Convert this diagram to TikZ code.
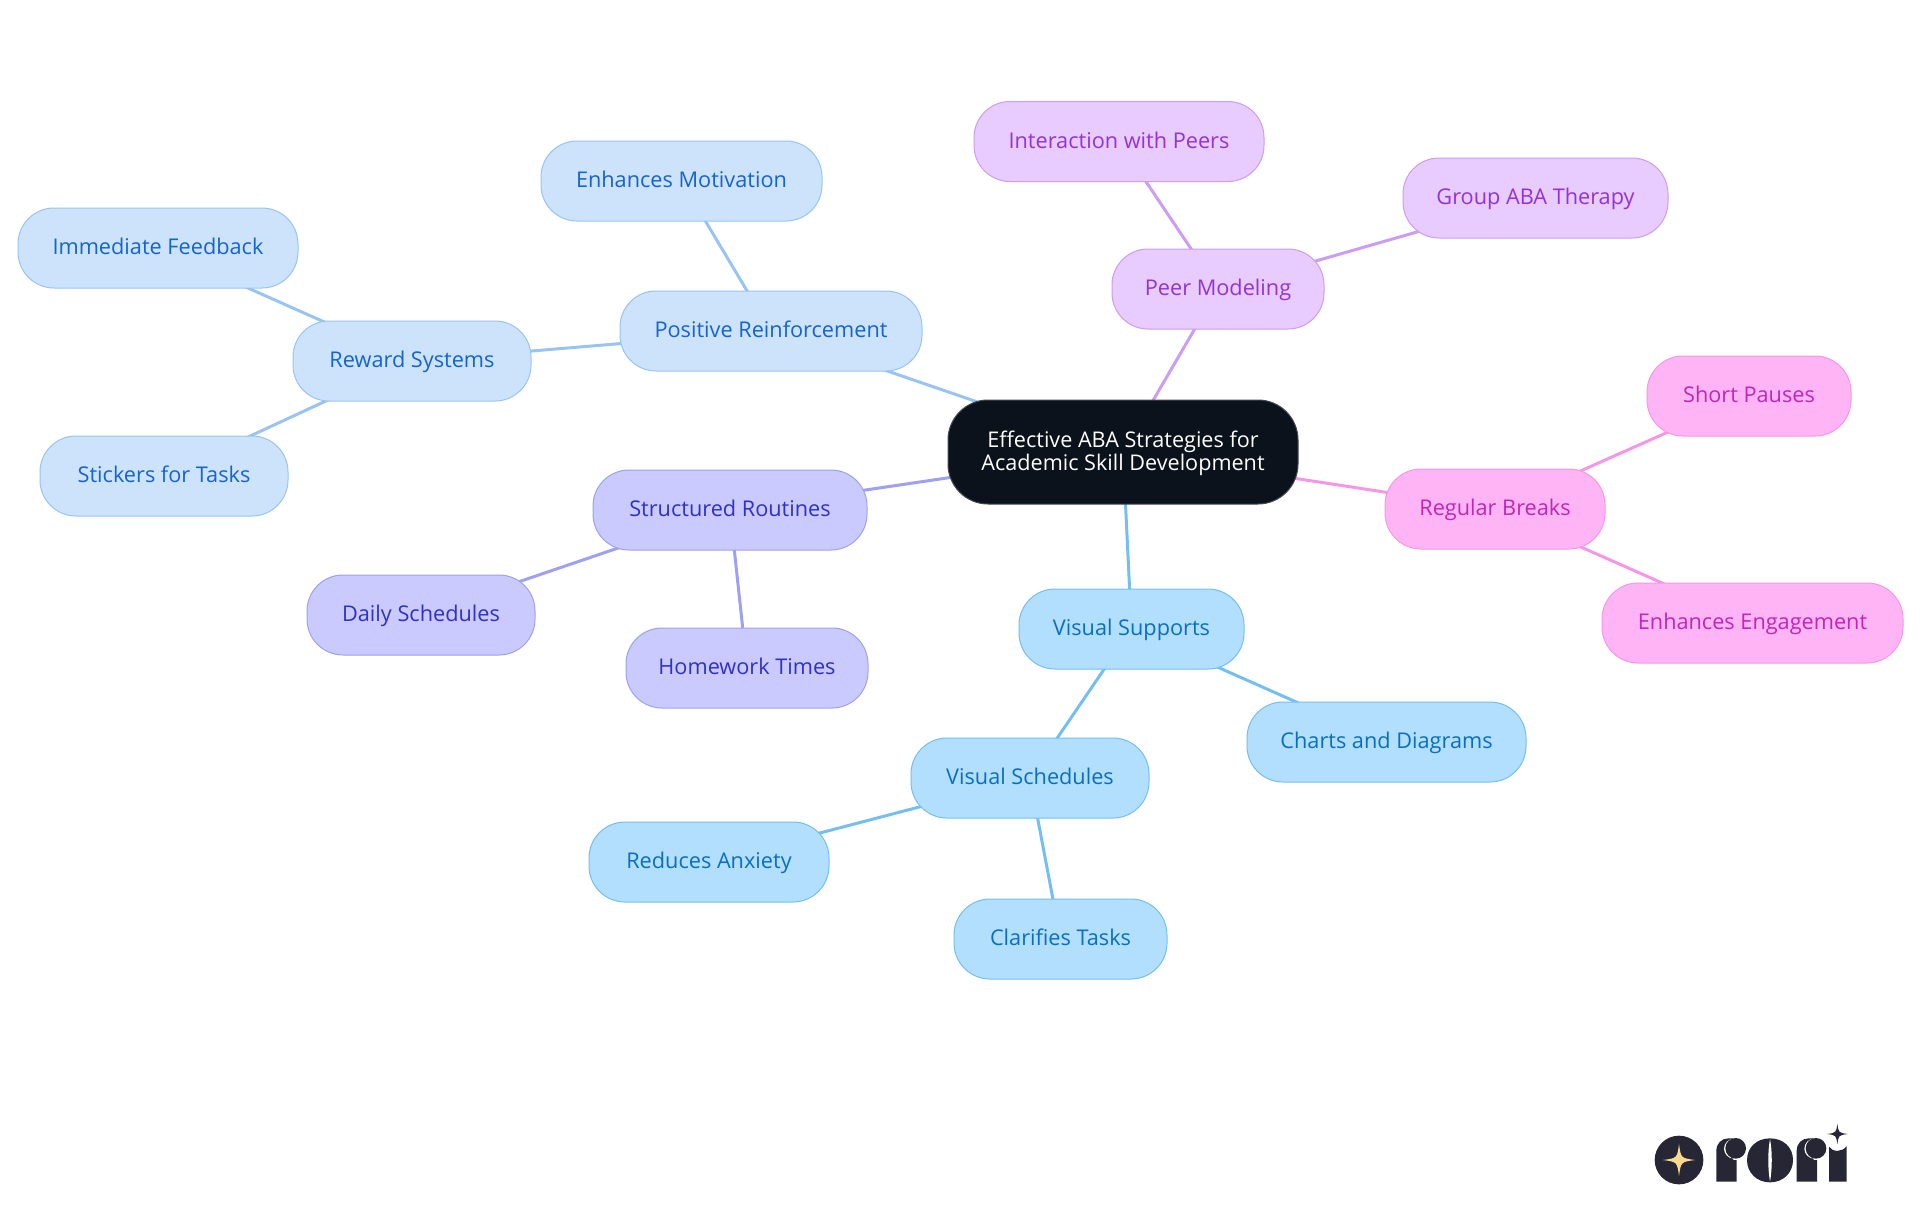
\documentclass[tikz,border=0pt]{standalone}
\usepackage{fontspec}
\setmainfont{Open Sans}
\usetikzlibrary{backgrounds}
\definecolor{bfill}{HTML}{CDE3FC}\definecolor{bline}{HTML}{98C4F3}\definecolor{btext}{HTML}{1464D2}
\definecolor{ifill}{HTML}{CACAFE}\definecolor{iline}{HTML}{A0A0F2}\definecolor{itext}{HTML}{3030CC}
\definecolor{sfill}{HTML}{B3DFFF}\definecolor{sline}{HTML}{75BFF0}\definecolor{stext}{HTML}{0A6FC2}
\definecolor{pfill}{HTML}{E8CBFF}\definecolor{pline}{HTML}{CC9DF2}\definecolor{ptext}{HTML}{9333D8}
\definecolor{mfill}{HTML}{FFB5F5}\definecolor{mline}{HTML}{F597E6}\definecolor{mtext}{HTML}{C026B8}
\definecolor{rootfill}{HTML}{0B121B}\definecolor{rootline}{HTML}{444950}
\definecolor{logodark}{HTML}{262635}\definecolor{logostar}{HTML}{FBD98C}
\tikzset{
 box/.style={rectangle,rounded corners=18pt,line width=.5pt,minimum height=40pt,inner sep=0pt,align=center,font=\fontsize{10.85}{11.5}\selectfont},
 leaf/.style={box,text height=9.1pt,text depth=2.4pt},
 bluebox/.style={leaf,draw=bline,fill=bfill,text=btext},
 indigobox/.style={leaf,draw=iline,fill=ifill,text=itext},
 skybox/.style={leaf,draw=sline,fill=sfill,text=stext},
 purplebox/.style={leaf,draw=pline,fill=pfill,text=ptext},
 pinkbox/.style={leaf,draw=mline,fill=mfill,text=mtext},
 rootbox/.style={box,draw=rootline,fill=rootfill,text=white,minimum height=52pt,rounded corners=20pt,text height=21.4pt,font=\fontsize{10.8}{11.5}\selectfont},
 link/.style={line width=1.5pt},
}
\newcommand{\logostarpath}[3]{% x y r
 (#1,#2-#3) .. controls (#1+.12*#3,#2-.12*#3) .. (#1+#3,#2) .. controls (#1+.12*#3,#2+.12*#3) .. (#1,#2+#3) .. controls (#1-.12*#3,#2+.12*#3) .. (#1-#3,#2) .. controls (#1-.12*#3,#2-.12*#3) .. cycle}
\begin{document}
\begin{tikzpicture}[x=.5pt,y=-.5pt]
\useasboundingbox (0,0) rectangle (1920,1215);
\node[rootbox,minimum width=175pt] (root) at (1123,452) {Effective ABA Strategies for\\Academic Skill Development};
\node[bluebox,minimum width=151pt] (pr) at (771,331) {Positive Reinforcement};
\node[bluebox,minimum width=140.5pt] (em) at (681.5,181) {Enhances Motivation};
\node[bluebox,minimum width=119pt] (rs) at (412,361) {Reward Systems};
\node[bluebox,minimum width=140pt] (if) at (158,248) {Immediate Feedback};
\node[bluebox,minimum width=124pt] (st) at (164,476) {Stickers for Tasks};
\node[indigobox,minimum width=137pt] (sr) at (730,510) {Structured Routines};
\node[indigobox,minimum width=114pt] (ds) at (421,615) {Daily Schedules};
\node[indigobox,minimum width=121pt] (ht) at (747,668) {Homework Times};
\node[skybox,minimum width=112.5pt] (vs) at (1131.5,629) {Visual Supports};
\node[skybox,minimum width=139.5pt] (cd) at (1386.5,742) {Charts and Diagrams};
\node[skybox,minimum width=119pt] (vc) at (1030,778) {Visual Schedules};
\node[skybox,minimum width=120pt] (ra) at (709,862) {Reduces Anxiety};
\node[skybox,minimum width=106.5pt] (ct) at (1060.5,939) {Clarifies Tasks};
\node[pinkbox,minimum width=110pt] (rb) at (1495,509) {Regular Breaks};
\node[pinkbox,minimum width=102pt] (sp) at (1749,396) {Short Pauses};
\node[pinkbox,minimum width=150.5pt] (ee) at (1752.5,623) {Enhances Engagement};
\node[purplebox,minimum width=106pt] (pm) at (1218,289) {Peer Modeling};
\node[purplebox,minimum width=145pt] (ip) at (1119,141.5) {Interaction with Peers};
\node[purplebox,minimum width=132.5pt] (gt) at (1535.5,198) {Group ABA Therapy};
\begin{scope}[on background layer]
 \draw[link,bline] (root.center) -- (pr.center);
 \draw[link,bline] (pr.center) -- (em.center);
 \draw[link,bline] (pr.center) -- (rs.center);
 \draw[link,bline] (rs.center) -- (if.center);
 \draw[link,bline] (rs.center) -- (st.center);
 \draw[link,iline] (root.center) -- (sr.center);
 \draw[link,iline] (sr.center) -- (ds.center);
 \draw[link,iline] (sr.center) -- (ht.center);
 \draw[link,sline] (root.center) -- (vs.center);
 \draw[link,sline] (vs.center) -- (cd.center);
 \draw[link,sline] (vs.center) -- (vc.center);
 \draw[link,sline] (vc.center) -- (ra.center);
 \draw[link,sline] (vc.center) -- (ct.center);
 \draw[link,mline] (root.center) -- (rb.center);
 \draw[link,mline] (rb.center) -- (sp.center);
 \draw[link,mline] (rb.center) -- (ee.center);
 \draw[link,pline] (root.center) -- (pm.center);
 \draw[link,pline] (pm.center) -- (ip.center);
 \draw[link,pline] (pm.center) -- (gt.center);
\end{scope}
% logo, in units of the 3x crop
\begin{scope}[shift={(1600,1090)},x=.16667pt,y=-.16667pt]
 \fill[logodark] (237,210) circle[radius=73];
 \fill[logostar] \logostarpath{237}{210}{48};
 % first r
 \fill[logodark] (349,275) -- (349,182) .. controls (349,160) and (365,145) .. (385,145) -- (400,145) -- (400,210) -- (410,210) -- (410,275) -- cycle;
 \fill[white] (402,176) circle[radius=30];
 \fill[logodark] (407,175) circle[radius=31];
 % o
 \fill[logodark] (510,145) .. controls (470,145) and (441,172) .. (441,210) .. controls (441,248) and (470,277) .. (510,277) .. controls (550,277) and (579,248) .. (579,210) .. controls (579,172) and (550,145) .. (510,145) -- cycle;
 \fill[white] (510,147) .. controls (503,185) and (503,235) .. (510,275) .. controls (517,235) and (517,185) .. (510,147) -- cycle;
 % second r
 \fill[logodark] (590,275) -- (590,182) .. controls (590,160) and (606,145) .. (626,145) -- (641,145) -- (641,210) -- (651,210) -- (651,275) -- cycle;
 \fill[white] (643,176) circle[radius=30];
 \fill[logodark] (648,175) circle[radius=31];
 % i and its star
 \fill[logodark] (687,275) -- (687,170) .. controls (697,187) and (728,187) .. (740,168) -- (740,275) -- cycle;
 \fill[logodark] \logostarpath{712}{132}{31};
\end{scope}
\end{tikzpicture}
\end{document}
